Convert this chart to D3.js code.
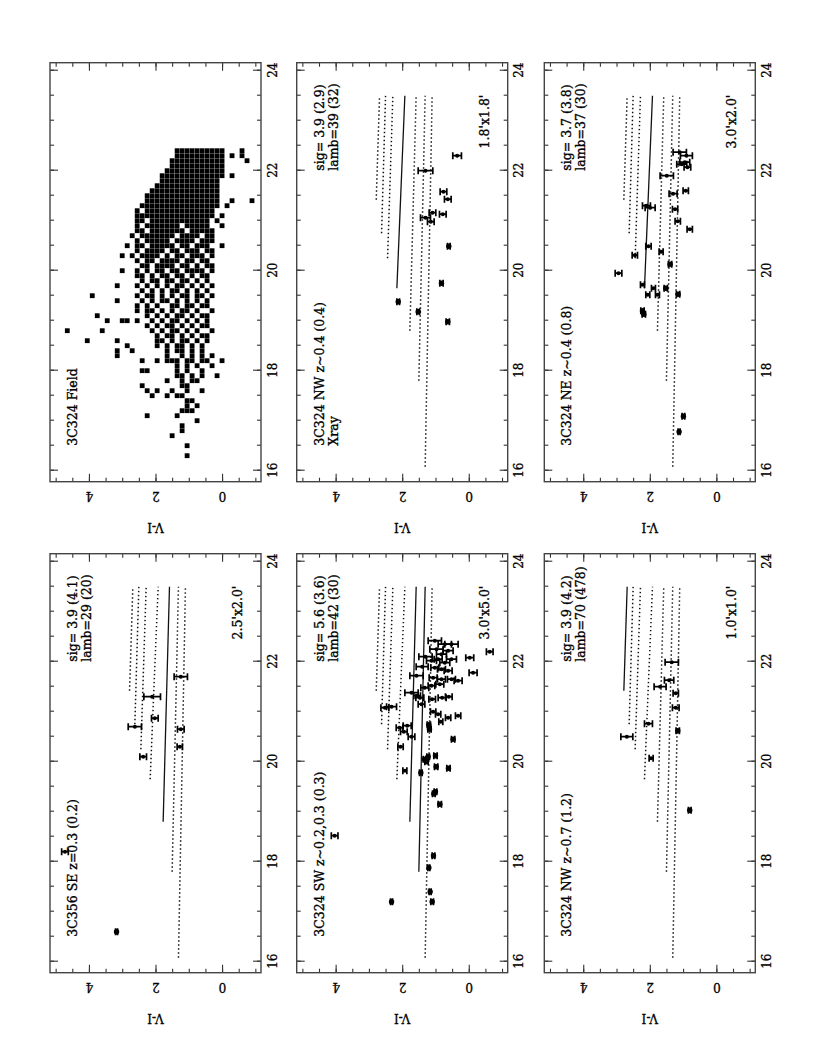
<!DOCTYPE html>
<html>
<head>
<meta charset="utf-8">
<script src="https://cdn.jsdelivr.net/npm/d3@7"></script>
<style>
  body { margin: 0; background: #fff; }
</style>
</head>
<body>
<svg id="fig" width="817" height="1059"></svg>
<script>
// axis labels
const magTicks = [16, 18, 20, 22, 24]
const colourTicks = [4, 2, 0]

// model red sequence for each redshift slice: start mag, V-I at start, V-I at the faint end
const modelZ = [0.1, 0.2, 0.3, 0.4, 0.5, 0.6, 0.7]
const modelStartMag = [16.08, 17.8, 18.8, 19.65, 20.25, 20.75, 21.42]
const modelStartCol = [1.31, 1.5, 1.77, 2.16, 2.44, 2.62, 2.78]
const modelEndCol = [1.1, 1.31, 1.58, 1.92, 2.28, 2.5, 2.68]
const modelEndMag = 23.5

// panels, in reading order of the (unrotated) page: left column then right column
const panelTitles = [
  ["3C356 SE z=0.3 (0.2)"],
  ["3C324 SW z~0.2,0.3 (0.3)"],
  ["3C324 NW z~0.7 (1.2)"],
  ["3C324 Field"],
  ["3C324 NW z~0.4 (0.4)", "Xray"],
  ["3C324 NE z~0.4 (0.8)"],
]
const panelSig = ["sig= 3.9 (4.1)", "sig= 5.6 (3.6)", "sig= 3.9 (4.2)", "", "sig= 3.9 (2.9)", "sig= 3.7 (3.8)"]
const panelLamb = ["lamb=29 (20)", "lamb=42 (30)", "lamb=70 (478)", "", "lamb=39 (32)", "lamb=37 (30)"]
const panelSize = ["2.5'x2.0'", "3.0'x5.0'", "1.0'x1.0'", "", "1.8'x1.8'", "3.0'x2.0'"]
const panelSolidZ = [[0.3], [0.2, 0.3], [0.7], null, [0.4], [0.4]]

// galaxies: [I mag, V-I, error in V-I]
const pts3C356 = [
  [16.6, 3.17, 0.03], [18.2, 4.72, 0.1], [20.1, 2.37, 0.1], [20.7, 2.62, 0.2],
  [20.87, 2.02, 0.1], [21.3, 2.1, 0.25], [20.3, 1.27, 0.08], [20.65, 1.24, 0.1],
  [21.7, 1.24, 0.2],
]
const ptsSW = [
  [17.2, 2.32, 0.03], [18.52, 4.03, 0.1], [17.4, 1.16, 0.03], [17.2, 1.1, 0.04],
  [17.88, 1.2, 0.03], [18.12, 1.06, 0.04], [19.15, 0.87, 0.05], [19.4, 1.0, 0.04],
  [19.36, 1.05, 0.04], [19.78, 1.44, 0.04], [19.82, 1.92, 0.06], [19.87, 0.61, 0.05],
  [19.9, 0.98, 0.05], [20.0, 1.27, 0.05], [20.05, 1.33, 0.04], [20.1, 1.22, 0.04],
  [20.12, 1.0, 0.05], [20.3, 2.05, 0.08], [20.45, 0.47, 0.05], [20.5, 1.72, 0.1],
  [20.6, 1.95, 0.1], [20.68, 2.08, 0.1], [20.72, 1.85, 0.12], [20.65, 1.18, 0.05],
  [20.74, 1.2, 0.05], [21.08, 2.52, 0.12], [21.1, 2.32, 0.15], [21.0, 1.07, 0.08],
  [20.95, 0.92, 0.08], [20.8, 0.84, 0.06], [20.88, 0.62, 0.08], [20.92, 0.32, 0.08],
  [21.38, 1.72, 0.2], [21.32, 1.55, 0.1], [21.28, 1.47, 0.12], [21.15, 1.42, 0.1],
  [21.25, 1.1, 0.1], [21.28, 0.8, 0.12], [21.3, 0.6, 0.1], [21.48, 1.32, 0.12],
  [21.52, 1.12, 0.1], [21.55, 0.87, 0.12], [21.68, 1.07, 0.12], [21.65, 0.82, 0.12],
  [21.65, 0.52, 0.12], [21.62, 0.32, 0.12], [21.72, 1.57, 0.2], [21.88, 1.02, 0.12],
  [21.85, 0.82, 0.12], [21.82, 0.62, 0.12], [21.98, 0.72, 0.15], [22.02, 1.12, 0.15],
  [22.05, 0.92, 0.12], [22.05, 0.52, 0.15], [21.78, -0.13, 0.12], [22.15, 0.82, 0.15],
  [22.22, 0.62, 0.15], [22.08, -0.03, 0.12], [22.2, -0.63, 0.1], [22.25, 0.97, 0.2],
  [22.35, 0.72, 0.2], [22.42, 1.02, 0.2], [22.35, 0.52, 0.2], [21.9, 1.4, 0.18],
  [22.1, 1.3, 0.2],
]
const ptsNW07 = [
  [19.03, 0.8, 0.04], [20.07, 1.96, 0.06], [20.5, 2.69, 0.18], [20.76, 2.04, 0.12],
  [20.62, 1.16, 0.05], [21.08, 1.22, 0.1], [21.37, 1.22, 0.08], [21.5, 1.69, 0.18],
  [21.63, 1.42, 0.14], [21.99, 1.34, 0.2],
]
const ptsNW04 = [
  [19.38, 2.12, 0.04], [19.18, 1.52, 0.04], [18.98, 0.63, 0.05], [19.75, 0.82, 0.05],
  [20.49, 0.6, 0.04], [21.13, 0.78, 0.1], [21.43, 0.63, 0.1], [21.58, 0.76, 0.1],
  [21.16, 1.09, 0.1], [20.98, 1.14, 0.1], [21.06, 1.3, 0.15], [22.0, 1.3, 0.22],
  [22.3, 0.35, 0.13],
]
const ptsNE = [
  [16.78, 1.12, 0.03], [17.09, 0.99, 0.04], [19.95, 2.94, 0.1], [20.31, 2.45, 0.08],
  [19.72, 2.22, 0.06], [19.2, 2.22, 0.05], [19.13, 2.18, 0.05], [19.52, 2.06, 0.06],
  [19.65, 1.89, 0.06], [19.52, 1.77, 0.06], [19.65, 1.52, 0.05], [20.49, 2.04, 0.08],
  [20.38, 1.66, 0.06], [20.13, 1.39, 0.05], [19.53, 1.15, 0.05], [20.83, 0.8, 0.08],
  [20.99, 1.16, 0.08], [21.23, 1.24, 0.08], [21.26, 1.99, 0.15], [21.3, 2.1, 0.12],
  [21.54, 1.3, 0.12], [21.6, 0.92, 0.08], [21.9, 1.49, 0.2], [22.13, 1.04, 0.15],
  [22.17, 0.95, 0.15], [22.07, 0.87, 0.1], [22.37, 1.1, 0.2], [22.3, 0.9, 0.18],
]
const panelPoints = [pts3C356, ptsSW, ptsNW07, null, ptsNW04, ptsNE]

// field galaxies, read off as occupied cells: one row per 0.1 mag from 22.4 down,
// cell c sits at V-I = 4.65 - 0.15 * c
const fieldTopMag = 22.4
const fieldMagStep = 0.1
const fieldColStart = 4.65
const fieldColStep = 0.15
const fieldRows = [
  "22-31 35", "22-31 33 35", "21-31 36", "21-31", "20-31",
  "19-31 33", "19-30", "18-30", "17-30", "16-30",
  "16-30 33 37", "15-30 32", "14 16-29", "14-29 31", "14 15 17-28 30",
  "14 16-22 24-28 31", "14 15 17-23 25-29", "13 15-21 23-26 28 29",
  "14 16-20 22-25 27-29", "12 14 15 17-21 23 24 26-28 31",
  "14 16-19 21 22 24-26 28 29", "11 13 15-18 20 22 23 25-27 29",
  "14 16 17 19-22 24 25 27 28", "15 16 18-21 23 24 26 28 29",
  "11 14 16 18 19 21 22 24-27 29", "14 15 17 19 20 22 23 25 27 28",
  "15 17 18 20 21 23 24 26 28", "10 14 16 18 20 22 23 25 27 29",
  "15 17 19 21 22 24 26 28", "5 14 16 17 19 21 23 24 26 27 29",
  "10 15 17 19 20 22 24 26 28", "14 16 18 21 22 24 25 27 28",
  "14 16 17 19 21 23 24 26 29", "6 16 18 20 22 23 25 27 28",
  "8 11 12 14 17 19 21 22 24 26 28", "16 18 20 21 23 25 27 28",
  "0 7 17 19 21 22 24 26 29", "18 20 21 23 25 27 28",
  "4 10 18 19 21 23 24 26 28", "12 18 20 22 23 25 27",
  "10 13 20 22 23 25 27", "10 20 23 25 27 29",
  "15 18 20 21 22 24 25 27 28 31", "22 24 26 29", "15 16 22 24 27",
  "22 23 25 27 30", "20 23 25 26", "15 23 24", "16 18 21 24 27",
  "17 20 22 23", "24 25", "24 26", "23 24 25", "16 22", "26",
  "23", "23", "21", "", "24", "", "24",
]

const FONT = "DejaVu Serif"

const svg = d3.select("#fig")
svg.append("rect").attr("width", 817).attr("height", 1059).attr("fill", "#fff")

// the page is printed sideways: draw it upright and turn it a quarter turn
const page = svg.append("g").attr("transform", "translate(0,1059) rotate(-90)")

const panelW = 419
const panelH = 211
const colLeft = [86.3, 577.3]
const rowTop = [50, 296.7, 544.3]

const x = d3.scaleLinear().domain([15.78, 24.16]).range([0, panelW])
const y = d3.scaleLinear().domain([5.17, -1.17]).range([0, panelH])

const parseRow = (s) =>
  s.trim() === ""
    ? []
    : s.trim().split(/\s+/).flatMap((tok) => {
        const [a, b] = tok.split("-").map(Number)
        return b === undefined ? [a] : d3.range(a, b + 1)
      })

const fieldCells = fieldRows.flatMap((row, k) =>
  parseRow(row).map((c) => [fieldTopMag - fieldMagStep * k, fieldColStart - fieldColStep * c]),
)

const tidy = (sel) => {
  sel.select(".domain").remove()
  sel.selectAll("line").attr("stroke", "#333").attr("stroke-width", 1.1)
  sel.attr("font-family", FONT).attr("font-size", 12)
  sel.selectAll("text").attr("stroke", "#000").attr("stroke-width", 0.3)
}

const drawAxes = (g) => {
  const minorMag = d3.range(16, 24.01, 0.5)
  const minorCol = d3.range(-1, 5.01, 0.5)

  g.append("g").attr("transform", `translate(0,${panelH})`)
    .call(d3.axisBottom(x).tickValues(minorMag).tickSize(-4).tickFormat(""))
    .call(tidy)
  g.append("g").attr("transform", `translate(0,${panelH})`)
    .call(d3.axisBottom(x).tickValues(magTicks).tickSize(-8).tickPadding(7).tickFormat(d3.format("d")))
    .call(tidy)
  g.append("g").call(d3.axisTop(x).tickValues(minorMag).tickSize(-4).tickFormat("")).call(tidy)
  g.append("g").call(d3.axisTop(x).tickValues(magTicks).tickSize(-8).tickFormat("")).call(tidy)

  g.append("g").call(d3.axisLeft(y).tickValues(minorCol).tickSize(-4).tickFormat("")).call(tidy)
  const yl = g.append("g")
    .call(d3.axisLeft(y).tickValues(colourTicks).tickSize(-8).tickFormat(d3.format("d")))
    .call(tidy)
  yl.selectAll("text")
    .attr("transform", "rotate(-90)")
    .attr("x", 0)
    .attr("y", -15)
    .attr("dy", "0.35em")
    .attr("text-anchor", "middle")
  g.append("g").attr("transform", `translate(${panelW},0)`)
    .call(d3.axisRight(y).tickValues(minorCol).tickSize(-4).tickFormat(""))
    .call(tidy)
  g.append("g").attr("transform", `translate(${panelW},0)`)
    .call(d3.axisRight(y).tickValues(colourTicks).tickSize(-8).tickFormat(""))
    .call(tidy)

  g.append("text")
    .attr("transform", `translate(-46,${panelH / 2}) rotate(-90)`)
    .attr("text-anchor", "middle")
    .attr("dy", "0.35em")
    .attr("font-family", FONT)
    .attr("font-size", 12)
    .attr("stroke", "#000")
    .attr("stroke-width", 0.3)
    .text("V-I")

  g.append("rect")
    .attr("width", panelW)
    .attr("height", panelH)
    .attr("fill", "none")
    .attr("stroke", "#444")
    .attr("stroke-width", 1.4)
}

const line = d3.line().x((d) => x(d[0])).y((d) => y(d[1]))

panelTitles.forEach((title, i) => {
  const g = page.append("g")
    .attr("transform", `translate(${colLeft[Math.floor(i / 3)]},${rowTop[i % 3]})`)

  // model sequences
  if (panelSolidZ[i]) {
    modelZ.forEach((z, k) => {
      const solid = panelSolidZ[i].includes(z)
      g.append("path")
        .attr("d", line([[modelStartMag[k], modelStartCol[k]], [modelEndMag, modelEndCol[k]]]))
        .attr("fill", "none")
        .attr("stroke", "#111")
        .attr("stroke-width", solid ? 1.3 : 1.5)
        .attr("stroke-dasharray", solid ? null : "1.4 2.6")
    })
  }

  // field scatter
  if (i === 3) {
    g.selectAll("rect.cell")
      .data(fieldCells)
      .join("rect")
      .attr("class", "cell")
      .attr("x", (d) => x(d[0]) - 2.4)
      .attr("y", (d) => y(d[1]) - 2.4)
      .attr("width", 4.8)
      .attr("height", 4.8)
      .attr("fill", "#000")
  }

  // galaxies with error bars
  const pts = panelPoints[i]
  if (pts) {
    const cap = 3.5
    g.selectAll("path.eb")
      .data(pts)
      .join("path")
      .attr("class", "eb")
      .attr("d", (d) => {
        const cx = x(d[0])
        const y1 = y(d[1] - d[2])
        const y2 = y(d[1] + d[2])
        return `M${cx},${y1}V${y2}M${cx - cap},${y1}h${2 * cap}M${cx - cap},${y2}h${2 * cap}`
      })
      .attr("stroke", "#000")
      .attr("stroke-width", 1.7)
      .attr("fill", "none")
    g.selectAll("circle.pt")
      .data(pts)
      .join("circle")
      .attr("class", "pt")
      .attr("cx", (d) => x(d[0]))
      .attr("cy", (d) => y(d[1]))
      .attr("r", (d) => (d[2] <= 0.05 ? 2.7 : 2.0))
      .attr("fill", "#000")
  }

  drawAxes(g)

  // annotations
  const txt = (s, px, py, anchor) =>
    g.append("text")
      .attr("x", px)
      .attr("y", py)
      .attr("text-anchor", anchor || "start")
      .attr("font-family", FONT)
      .attr("font-size", 12.5)
      .attr("fill", "#000")
      .attr("stroke", "#000")
      .attr("stroke-width", 0.35)
      .text(s)

  title.forEach((t, k) => txt(t, x(16.5), 27 + 14 * k))
  if (panelSig[i]) {
    txt(panelSig[i], x(22.0), 27)
    txt(panelLamb[i], x(22.0), 41)
  }
  if (panelSize[i]) txt(panelSize[i], x(23.52), 192, "end")
})
</script>
</body>
</html>
